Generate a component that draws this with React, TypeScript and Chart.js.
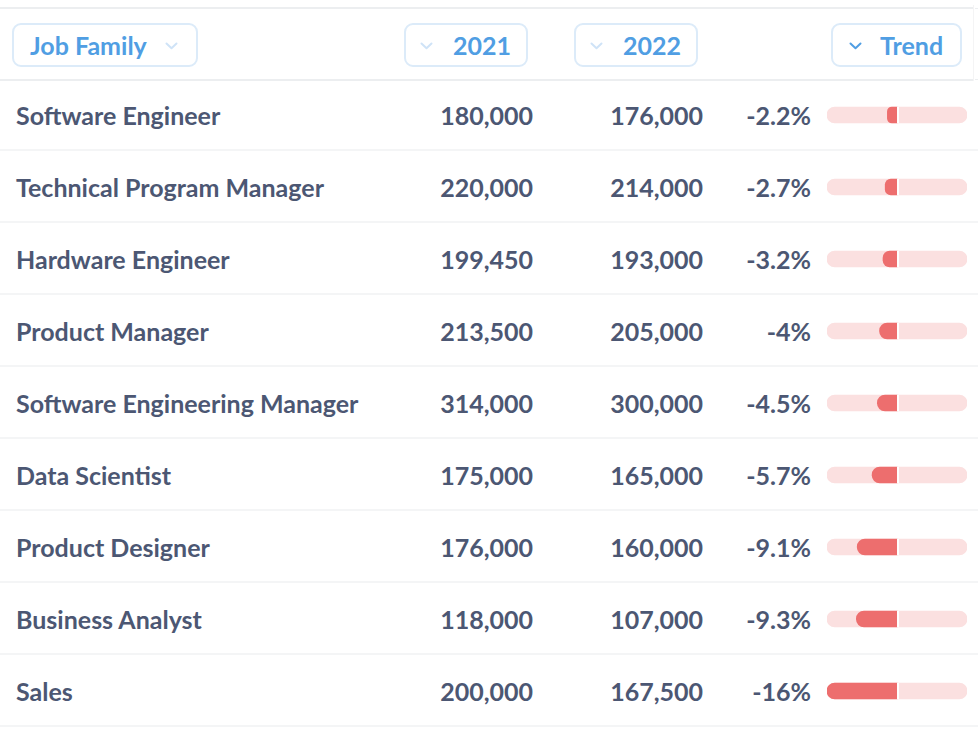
import React, { useEffect, useRef } from "react";
import { Chart, registerables } from "chart.js";

Chart.register(...registerables);

// ---- data ----
const jobFamilies = [
  "Software Engineer",
  "Technical Program Manager",
  "Hardware Engineer",
  "Product Manager",
  "Software Engineering Manager",
  "Data Scientist",
  "Product Designer",
  "Business Analyst",
  "Sales",
];
const salary2021 = [180000, 220000, 199450, 213500, 314000, 175000, 176000, 118000, 200000];
const salary2022 = [176000, 214000, 193000, 205000, 300000, 165000, 160000, 107000, 167500];
const trendPct = [-2.2, -2.7, -3.2, -4, -4.5, -5.7, -9.1, -9.3, -16];
const trendLabels = ["-2.2%", "-2.7%", "-3.2%", "-4%", "-4.5%", "-5.7%", "-9.1%", "-9.3%", "-16%"];
const columnHeaders = ["Job Family", "2021", "2022", "Trend"];
const trendMin = -16;
const trendMax = 16;

// ---- style ----
const FONT = "Lato, 'Noto Sans', sans-serif";
const TEXT = "#4c5773";
const BLUE = "#509ee3";
const BLUE_LIGHT = "#cfe3f7";
const BTN_BORDER = "#dcebf9";
const LINE = "#eceef0";
const SEP = "#f4f5f6";
const RED = "#ed6e6e";
const PINK = "#fbe0e0";

const ROW_TOP = 79;
const ROW_H = 72;
const FS = 25;

const fmt = (n: number) => n.toLocaleString("en-US");

function Chevron({ color }: { color: string }) {
  return (
    <svg width="13" height="8" viewBox="0 0 13 8" style={{ display: "block" }}>
      <path d="M1.5 1.5 L6.5 6.2 L11.5 1.5" fill="none" stroke={color} strokeWidth="2" strokeLinecap="round" strokeLinejoin="round" />
    </svg>
  );
}

const abs = (o: React.CSSProperties): React.CSSProperties => ({ position: "absolute", ...o });

function TrendBars() {
  const ref = useRef<HTMLCanvasElement | null>(null);
  useEffect(() => {
    if (!ref.current) return;
    const divider = {
      id: "zeroDivider",
      afterDatasetsDraw(chart: any) {
        const x = chart.scales.x.getPixelForValue(0);
        const ctx = chart.ctx;
        ctx.save();
        ctx.fillStyle = "#ffffff";
        chart.getDatasetMeta(1).data.forEach((bar: any) => {
          ctx.fillRect(x, bar.y - 8, 2, 16);
        });
        ctx.restore();
      },
    };
    const chart = new Chart(ref.current, {
      type: "bar",
      data: {
        labels: jobFamilies,
        datasets: [
          {
            label: "Trend",
            data: trendPct,
            backgroundColor: RED,
            barThickness: 16,
            borderRadius: 8,
            borderSkipped: "start",
            grouped: false,
            order: 0,
          } as any,
          {
            label: "Track",
            data: trendPct.map(() => [trendMin, trendMax]),
            backgroundColor: PINK,
            barThickness: 16,
            borderRadius: 8,
            borderSkipped: false,
            grouped: false,
            order: 1,
          } as any,
        ],
      },
      options: {
        indexAxis: "y",
        animation: false,
        responsive: false,
        devicePixelRatio: 1,
        events: [],
        layout: { padding: 0 },
        plugins: { legend: { display: false }, tooltip: { enabled: false } },
        scales: {
          x: { display: false, min: trendMin, max: trendMax },
          y: { display: false, offset: true },
        },
      },
      plugins: [divider],
    });
    return () => chart.destroy();
  }, []);
  return (
    <canvas
      ref={ref}
      width={140}
      height={ROW_H * jobFamilies.length}
      style={abs({ left: 827, top: ROW_TOP, width: 140, height: ROW_H * jobFamilies.length })}
    />
  );
}

function HeaderButton({
  left, width, text, textLeft, chevLeft, chevColor,
}: { left: number; width: number; text: string; textLeft: number; chevLeft: number; chevColor: string }) {
  return (
    <>
      <div
        style={abs({
          left, top: 23, width: width - 4, height: 40,
          border: `2px solid ${BTN_BORDER}`, borderRadius: 9,
        })}
      />
      <div style={abs({ left: textLeft, top: 23, height: 44, lineHeight: "44px", fontSize: FS, fontWeight: 700, color: BLUE, whiteSpace: "nowrap" })}>
        {text}
      </div>
      <div style={abs({ left: chevLeft, top: 42 })}>
        <Chevron color={chevColor} />
      </div>
    </>
  );
}

export default function App() {
  useEffect(() => {
    document.body.style.margin = "0";
  }, []);
  return (
    <div style={{ position: "fixed", left: 0, top: 0, width: 978, height: 742, background: "#fff", fontFamily: FONT, overflow: "hidden" }}>
      <div style={abs({ left: 0, top: 7, width: 973, height: 2, background: LINE })} />
      <div style={abs({ left: 0, top: 79, width: 973, height: 2, background: LINE })} />
      <div style={abs({ left: 975, top: 8, width: 3, height: 1, background: LINE })} />
      <div style={abs({ left: 975, top: 79, width: 3, height: 1, background: LINE })} />
      <div style={abs({ left: 973, top: 5, width: 1, height: 76, background: "#f4f4f5" })} />

      <HeaderButton left={12} width={186} text={columnHeaders[0]} textLeft={30} chevLeft={165} chevColor={BLUE_LIGHT} />
      <HeaderButton left={404} width={124} text={columnHeaders[1]} textLeft={453} chevLeft={420} chevColor={BLUE_LIGHT} />
      <HeaderButton left={574} width={124} text={columnHeaders[2]} textLeft={623} chevLeft={590} chevColor={BLUE_LIGHT} />
      <HeaderButton left={831} width={131} text={columnHeaders[3]} textLeft={880} chevLeft={849} chevColor={BLUE} />

      {jobFamilies.map((name, i) => {
        const top = ROW_TOP + ROW_H * i;
        const common: React.CSSProperties = {
          top, height: ROW_H, lineHeight: `${ROW_H}px`, fontSize: FS, fontWeight: 700, color: TEXT, whiteSpace: "nowrap",
        };
        return (
          <React.Fragment key={name}>
            <div style={abs({ ...common, left: 16 })}>{name}</div>
            <div style={abs({ ...common, right: 978 - 533, textAlign: "right" })}>{fmt(salary2021[i])}</div>
            <div style={abs({ ...common, right: 978 - 703, textAlign: "right" })}>{fmt(salary2022[i])}</div>
            <div style={abs({ ...common, right: 978 - 811, textAlign: "right" })}>{trendLabels[i]}</div>
            <div style={abs({ left: 0, top: 149 + ROW_H * i, width: 978, height: 2, background: SEP })} />
          </React.Fragment>
        );
      })}

      <TrendBars />
    </div>
  );
}
